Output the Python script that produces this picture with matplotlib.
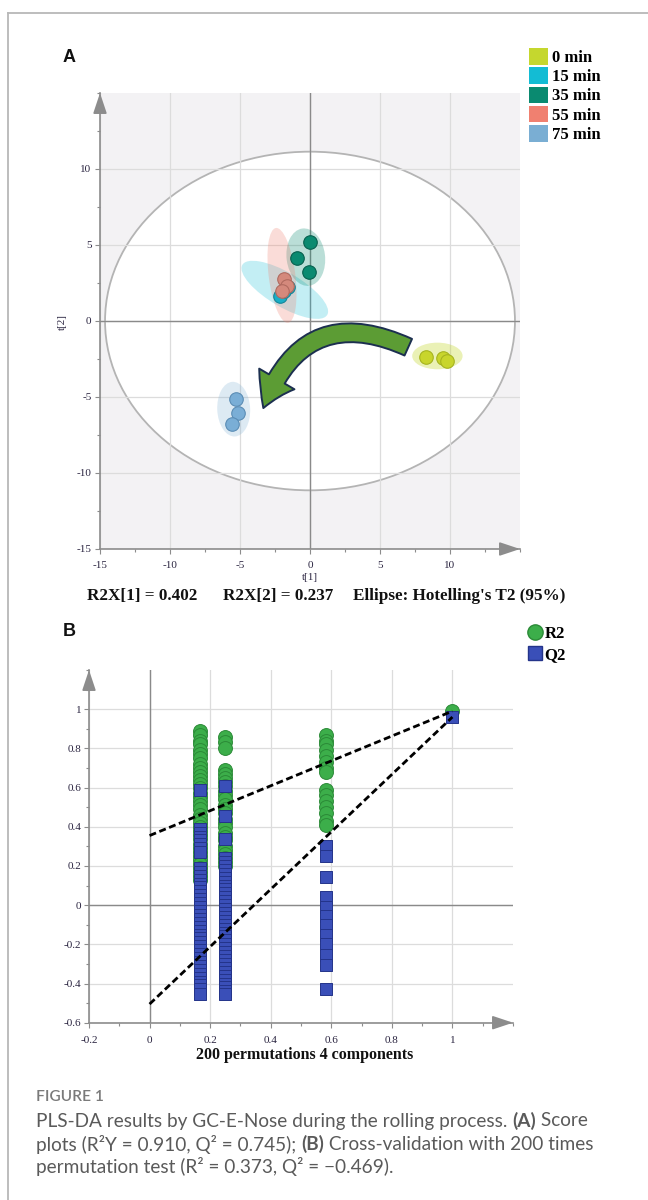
import matplotlib
matplotlib.use('Agg')
import matplotlib.pyplot as plt
import matplotlib.ticker as mt
from matplotlib.patches import Ellipse, FancyArrowPatch, Patch
from matplotlib.lines import Line2D
from matplotlib.font_manager import FontProperties

plt.rcParams['axes.unicode_minus'] = False

# ---------------- Panel A data (PLS-DA scores) ----------------
groups = ['0 min', '15 min', '35 min', '55 min', '75 min']
legend_colors = ['#c5d72e', '#13bcd4', '#0a8a70', '#f08070', '#7aaed3']
point_colors = ['#c8d52c', '#1aaec6', '#0a8a70', '#d4897c', '#7aaed6']
edge_colors = ['#a6b41e', '#12879a', '#06604e', '#b06a5f', '#5b8db5']

t1_0min = [8.3, 9.5, 9.75]
t2_0min = [-2.4, -2.45, -2.6]
t1_15min = [-2.15, -1.55, -1.85]
t2_15min = [1.65, 2.25, 1.95]
t1_35min = [0.0, -0.95, -0.05]
t2_35min = [5.2, 4.15, 3.2]
t1_55min = [-1.83, -1.62, -2.02]
t2_55min = [2.76, 2.32, 1.95]
t1_75min = [-5.29, -5.12, -5.55]
t2_75min = [-5.13, -6.05, -6.78]
t1_all = [t1_0min, t1_15min, t1_35min, t1_55min, t1_75min]
t2_all = [t2_0min, t2_15min, t2_35min, t2_55min, t2_75min]

# group confidence ellipses: centre, width, height, angle
ell_cx = [9.1, -1.8, -0.3, -2.0, -5.45]
ell_cy = [-2.3, 2.05, 4.2, 3.0, -5.8]
ell_w = [3.6, 6.9, 2.75, 1.9, 2.35]
ell_h = [1.75, 2.3, 3.8, 6.3, 3.6]
ell_ang = [0, -28, 8, 8, 3]

hotelling_a = 14.64
hotelling_b = 11.14

# rolling direction arrow (tail -> head)
arrow_tail = (7.2, -1.8)
arrow_head = (-3.4, -5.9)

axisA_ticks = [-15, -10, -5, 0, 5, 10]

# ---------------- Panel B data (permutation test) ----------------
perm_x = [0.167, 0.25, 0.583]
r2_col1 = [0.89, 0.87, 0.84, 0.82, 0.79, 0.77, 0.75, 0.72, 0.70, 0.68, 0.66, 0.64,
           0.62, 0.60, 0.57, 0.55, 0.53, 0.51, 0.49, 0.46, 0.44, 0.42, 0.40, 0.38,
           0.36, 0.34, 0.31, 0.29, 0.27, 0.25, 0.23, 0.21, 0.19, 0.17, 0.15, 0.13]
q2_col1 = [0.59, 0.39, 0.37, 0.35, 0.33, 0.31, 0.29, 0.27, 0.19, 0.17, 0.15, 0.13,
           0.11, 0.09, 0.07, 0.05, 0.03, 0.01, -0.01, -0.03, -0.05, -0.07, -0.09,
           -0.11, -0.13, -0.15, -0.17, -0.19, -0.21, -0.23, -0.25, -0.27, -0.29,
           -0.31, -0.33, -0.35, -0.37, -0.39, -0.41, -0.43, -0.455]
r2_col2 = [0.86, 0.83, 0.80, 0.69, 0.67, 0.65, 0.63, 0.61, 0.58, 0.56, 0.54, 0.51,
           0.49, 0.47, 0.44, 0.42, 0.40, 0.37, 0.35, 0.33, 0.30, 0.28, 0.26, 0.24,
           0.22, 0.20]
q2_col2 = [0.61, 0.455, 0.34, 0.24, 0.22, 0.20, 0.18, 0.16, 0.14, 0.12, 0.10, 0.08,
           0.06, 0.04, 0.02, 0.0, -0.02, -0.04, -0.06, -0.08, -0.10, -0.12, -0.14,
           -0.16, -0.18, -0.20, -0.22, -0.24, -0.26, -0.28, -0.30, -0.32, -0.34,
           -0.36, -0.38, -0.40, -0.42, -0.44, -0.455]
r2_col3 = [0.87, 0.84, 0.82, 0.79, 0.76, 0.73, 0.70, 0.68, 0.59, 0.56, 0.53, 0.50,
           0.47, 0.43, 0.41]
q2_col3 = [0.30, 0.25, 0.145, 0.04, -0.01, -0.055, -0.10, -0.15, -0.20, -0.255,
           -0.305, -0.43]
r2_cols = [r2_col1, r2_col2, r2_col3]
q2_cols = [q2_col1, q2_col2, q2_col3]

orig_x = 1.0
r2_orig = 0.99
q2_orig = 0.96
r2_intercept = 0.355
q2_intercept = -0.505

axisB_xticks = [-0.2, 0, 0.2, 0.4, 0.6, 0.8, 1]
axisB_yticks = [-0.6, -0.4, -0.2, 0, 0.2, 0.4, 0.6, 0.8, 1]

# ---------------- figure ----------------
W, H = 648, 1200
fig = plt.figure(figsize=(W / 100, H / 100), dpi=100)
fig.patch.set_facecolor('white')

SERIF = 'Liberation Serif'
tick_col = '#2a2440'
axis_col = '#8c8c8c'


def fx(px):
    return px / W


def fy(py):
    return 1 - py / H


# frame of the figure card
fig.add_artist(Line2D([fx(8), 1.0], [fy(13), fy(13)], transform=fig.transFigure,
                      color='#b8b8b8', lw=1.3))
fig.add_artist(Line2D([fx(8), fx(8)], [fy(13), 0.0], transform=fig.transFigure,
                      color='#b8b8b8', lw=1.3))

# ===================== Panel A =====================
axA = fig.add_axes([fx(100), fy(549), fx(420), 456 / H])
axA.set_xlim(-15, 15)
axA.set_ylim(-15, 15)
axA.set_facecolor('#f3f2f4')
axA.set_axisbelow(True)
axA.add_patch(Ellipse((0, 0), 2 * hotelling_a, 2 * hotelling_b, facecolor='white',
                      edgecolor='#b4b4b4', lw=1.3, zorder=0.2))
axA.set_xticks(axisA_ticks)
axA.set_yticks(axisA_ticks)
axA.xaxis.set_minor_locator(mt.MultipleLocator(2.5))
axA.yaxis.set_minor_locator(mt.MultipleLocator(2.5))
axA.grid(True, which='major', color='#dcdcdc', lw=0.9)
axA.axhline(0, color='#8a8a8a', lw=1.0, zorder=0.8)
axA.axvline(0, color='#8a8a8a', lw=1.0, zorder=0.8)
for s in ['top', 'right']:
    axA.spines[s].set_visible(False)
for s in ['left', 'bottom']:
    axA.spines[s].set_color(axis_col)
    axA.spines[s].set_linewidth(1.2)
axA.tick_params(which='major', length=3.6, width=0.8, color=axis_col,
                labelsize=8, labelcolor=tick_col)
axA.tick_params(which='minor', length=2.4, width=0.8, color=axis_col)
axA.tick_params(axis='x', pad=5)
axA.tick_params(axis='y', pad=2.5)
for lab in axA.get_xticklabels() + axA.get_yticklabels():
    lab.set_family(SERIF)

# axis arrowheads
axA.annotate('', xy=(1.0, 0), xytext=(0.96, 0), xycoords='axes fraction',
             arrowprops=dict(arrowstyle='-|>,head_length=0.9,head_width=0.3',
                             color=axis_col, lw=1.2, shrinkA=0, shrinkB=0,
                             mutation_scale=14), annotation_clip=False)
axA.annotate('', xy=(0, 1.0), xytext=(0, 0.96), xycoords='axes fraction',
             arrowprops=dict(arrowstyle='-|>,head_length=0.9,head_width=0.3',
                             color=axis_col, lw=1.2, shrinkA=0, shrinkB=0,
                             mutation_scale=14), annotation_clip=False)

# group ellipses
ell_alpha = [0.35, 0.25, 0.28, 0.27, 0.25]
for i in range(len(groups)):
    axA.add_patch(Ellipse((ell_cx[i], ell_cy[i]), ell_w[i], ell_h[i], angle=ell_ang[i],
                          facecolor=legend_colors[i], alpha=ell_alpha[i],
                          edgecolor='none', zorder=1))

# curved arrow
arr = FancyArrowPatch(arrow_tail, arrow_head, connectionstyle='arc3,rad=0.55',
                      arrowstyle='simple,head_length=2.2,head_width=2.8,tail_width=1.25',
                      mutation_scale=10.5, facecolor='#5c9c34', edgecolor='#1c2f50',
                      lw=1.4, zorder=2)
axA.add_patch(arr)

# points
for i in range(len(groups)):
    axA.scatter(t1_all[i], t2_all[i], s=95, color=point_colors[i],
                edgecolors=edge_colors[i], linewidths=0.8, zorder=3 + i * 0.1)

fig.text(fx(310), fy(578), 't[1]', family=SERIF, fontsize=8, color=tick_col,
         ha='center', va='center')
fig.text(fx(62), fy(322), 't[2]', family=SERIF, fontsize=8, color=tick_col,
         ha='center', va='center', rotation=90)

boldserif = dict(family=SERIF, weight='bold', fontsize=12.3, color='#111111', va='center')
fig.text(fx(87), fy(596), 'R2X[1] = 0.402', **boldserif)
fig.text(fx(223), fy(596), 'R2X[2] = 0.237', **boldserif)
fig.text(fx(353), fy(596), "Ellipse: Hotelling's T2 (95%)", **boldserif)

fig.text(fx(63), fy(58), 'A', family='Liberation Sans', weight='bold', fontsize=13,
         ha='left', va='center', color='#111111')

legA_handles = [Patch(facecolor=c, edgecolor='none') for c in legend_colors]
fig.legend(handles=legA_handles, labels=groups, loc='upper left',
           bbox_to_anchor=(fx(529), fy(48)), frameon=False,
           prop=FontProperties(family=SERIF, weight='bold', size=12),
           handlelength=1.15, handleheight=1.15, handletextpad=0.2,
           labelspacing=0.08, borderaxespad=0, borderpad=0)

# ===================== Panel B =====================
axB = fig.add_axes([fx(89), fy(1022.7), fx(424), 352.7 / H])
axB.set_xlim(-0.2, 1.2)
axB.set_ylim(-0.6, 1.2)
axB.set_axisbelow(True)
axB.set_xticks(axisB_xticks)
axB.set_yticks(axisB_yticks)
axB.xaxis.set_minor_locator(mt.MultipleLocator(0.1))
axB.yaxis.set_minor_locator(mt.MultipleLocator(0.1))
fmt = mt.FuncFormatter(lambda v, p: '%g' % round(v, 2))
axB.xaxis.set_major_formatter(fmt)
axB.yaxis.set_major_formatter(fmt)
axB.grid(True, which='major', color='#dcdcdc', lw=0.9)
axB.axhline(0, color='#8a8a8a', lw=1.0, zorder=0.8)
axB.axvline(0, color='#8a8a8a', lw=1.0, zorder=0.8)
for s in ['top', 'right']:
    axB.spines[s].set_visible(False)
for s in ['left', 'bottom']:
    axB.spines[s].set_color(axis_col)
    axB.spines[s].set_linewidth(1.2)
axB.tick_params(which='major', length=3.6, width=0.8, color=axis_col,
                labelsize=8, labelcolor=tick_col)
axB.tick_params(which='minor', length=2.4, width=0.8, color=axis_col)
axB.tick_params(axis='x', pad=6)
axB.tick_params(axis='y', pad=2)
for lab in axB.get_xticklabels() + axB.get_yticklabels():
    lab.set_family(SERIF)

axB.annotate('', xy=(1.0, 0), xytext=(0.96, 0), xycoords='axes fraction',
             arrowprops=dict(arrowstyle='-|>,head_length=0.9,head_width=0.3',
                             color=axis_col, lw=1.2, shrinkA=0, shrinkB=0,
                             mutation_scale=14), annotation_clip=False)
axB.annotate('', xy=(0, 1.0), xytext=(0, 0.96), xycoords='axes fraction',
             arrowprops=dict(arrowstyle='-|>,head_length=0.9,head_width=0.3',
                             color=axis_col, lw=1.2, shrinkA=0, shrinkB=0,
                             mutation_scale=14), annotation_clip=False)

green = '#3cae4a'
green_edge = '#2b8a37'
blue = '#3a4fb8'
blue_edge = '#24348a'
for xv, vals in zip(perm_x, r2_cols):
    axB.scatter([xv] * len(vals), vals, s=100, marker='o', color=green,
                edgecolors=green_edge, linewidths=0.7, zorder=3)
axB.scatter([orig_x], [r2_orig], s=100, marker='o', color=green,
            edgecolors=green_edge, linewidths=0.7, zorder=3)
for xv, vals in zip(perm_x, q2_cols):
    axB.scatter([xv] * len(vals), vals, s=72, marker='s', color=blue,
                edgecolors=blue_edge, linewidths=0.7, zorder=4)
axB.scatter([orig_x], [q2_orig], s=72, marker='s', color=blue,
            edgecolors=blue_edge, linewidths=0.7, zorder=4)

axB.plot([0, orig_x], [r2_intercept, r2_orig], color='black', lw=2.0,
         dashes=(2.5, 1.3), zorder=5)
axB.plot([0, orig_x], [q2_intercept, q2_orig], color='black', lw=2.0,
         dashes=(2.5, 1.3), zorder=5)

fig.text(fx(305), fy(1055), '200 permutations 4 components', family=SERIF,
         weight='bold', fontsize=11.5, ha='center', va='center', color='#111111')
fig.text(fx(63), fy(632), 'B', family='Liberation Sans', weight='bold', fontsize=13,
         ha='left', va='center', color='#111111')

legB_handles = [Line2D([], [], marker='o', ls='none', markersize=11, color=green,
                       markeredgecolor=green_edge),
                Line2D([], [], marker='s', ls='none', markersize=9.5, color=blue,
                       markeredgecolor=blue_edge)]
fig.legend(handles=legB_handles, labels=['R2', 'Q2'], loc='upper left',
           bbox_to_anchor=(fx(527), fy(625)), frameon=False,
           prop=FontProperties(family=SERIF, weight='bold', size=12),
           handlelength=0.9, handleheight=1.0, handletextpad=0.15,
           labelspacing=0.25, borderaxespad=0, borderpad=0)

# ===================== Caption =====================
renderer = fig.canvas.get_renderer()
CAP = 'Lato'


def draw_line(x_px, y_px, segments, size, color):
    x = fx(x_px)
    for txt, weight in segments:
        t = fig.text(x, fy(y_px), txt, family=CAP, weight=weight, fontsize=size,
                     color=color, ha='left', va='center')
        bb = t.get_window_extent(renderer=renderer)
        x += bb.width / fig.bbox.width


fig.text(fx(36), fy(1097), 'FIGURE 1', family=CAP, weight='semibold', fontsize=11.2,
         color='#7a7a7a', ha='left', va='center')
cap_col = '#5a5a5a'
cap_size = 13.7
draw_line(36, 1121, [('PLS-DA results by GC-E-Nose during the rolling process. ', 'normal'),
                     ('(A)', 'bold'), (' Score', 'normal')], cap_size, cap_col)
draw_line(36, 1144, [('plots (R\u00b2Y = 0.910, Q\u00b2 = 0.745); ', 'normal'),
                     ('(B)', 'bold'), (' Cross-validation with 200 times', 'normal')],
          cap_size, cap_col)
draw_line(36, 1167, [('permutation test (R\u00b2 = 0.373, Q\u00b2 = \u22120.469).', 'normal')],
          cap_size, cap_col)

fig.savefig('out.png', dpi=100)
